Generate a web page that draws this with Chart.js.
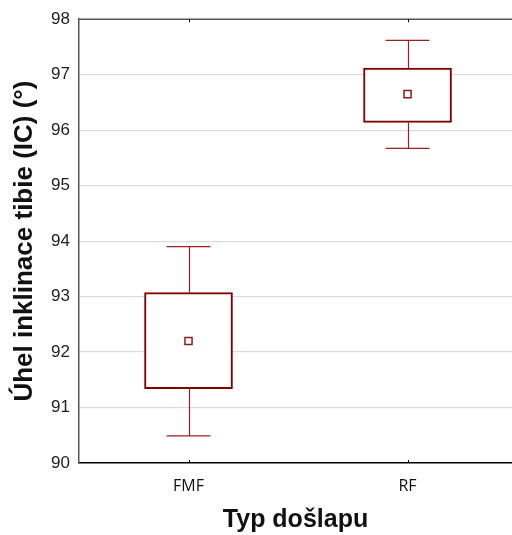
<!DOCTYPE html>
<html>
<head>
<meta charset="utf-8">
<script src="https://cdn.jsdelivr.net/npm/chart.js@4"></script>
<style>
  html, body { margin: 0; padding: 0; background: #fff; }
  #wrap { width: 512px; height: 535px; position: relative; }
</style>
</head>
<body>
<div id="wrap"><canvas id="boxChart"></canvas></div>
<script>
// ===============================
// DATA
// ===============================
const categories = ["FMF", "RF"];
const means = [92.2, 96.65];
const boxLow = [91.34, 96.14];
const boxHigh = [93.07, 97.12];
const whiskerLow = [90.49, 95.67];
const whiskerHigh = [93.9, 97.62];
const yTicks = [90, 91, 92, 93, 94, 95, 96, 97, 98];

const DARK_RED = "#800000";
const WHISKER_RED = "#9a1f1f";

document.addEventListener("DOMContentLoaded", () => {

  // ===============================
  // WHISKERS + FRAME TICKS
  // ===============================
  const whiskerPlugin = {
    id: "whiskers",
    afterDatasetsDraw(chart) {
      const { ctx, scales: { x, y }, chartArea } = chart;
      ctx.save();
      ctx.strokeStyle = WHISKER_RED;
      ctx.lineWidth = 1.2;
      categories.forEach((c, i) => {
        const cx = Math.round(x.getPixelForValue(i)) + 0.5;
        const capL = x.getPixelForValue(i - 0.1);
        const capR = x.getPixelForValue(i + 0.1);
        ctx.beginPath();
        ctx.moveTo(cx, y.getPixelForValue(boxHigh[i]));
        ctx.lineTo(cx, y.getPixelForValue(whiskerHigh[i]));
        ctx.moveTo(capL, y.getPixelForValue(whiskerHigh[i]));
        ctx.lineTo(capR, y.getPixelForValue(whiskerHigh[i]));
        ctx.moveTo(cx, y.getPixelForValue(boxLow[i]));
        ctx.lineTo(cx, y.getPixelForValue(whiskerLow[i]));
        ctx.moveTo(capL, y.getPixelForValue(whiskerLow[i]));
        ctx.lineTo(capR, y.getPixelForValue(whiskerLow[i]));
        ctx.stroke();
      });

      // top frame line
      ctx.strokeStyle = "#555";
      ctx.lineWidth = 1.5;
      ctx.beginPath();
      ctx.moveTo(chartArea.left, chartArea.top);
      ctx.lineTo(chartArea.right, chartArea.top);
      ctx.stroke();

      // small category ticks on top and bottom
      ctx.strokeStyle = "#000";
      ctx.lineWidth = 1;
      categories.forEach((c, i) => {
        const cx = Math.round(x.getPixelForValue(i)) + 0.5;
        ctx.beginPath();
        ctx.moveTo(cx, chartArea.top);
        ctx.lineTo(cx, chartArea.top + 3);
        ctx.moveTo(cx, chartArea.bottom);
        ctx.lineTo(cx, chartArea.bottom - 3);
        ctx.stroke();
      });
      ctx.restore();
    }
  };

  const canvas = document.getElementById("boxChart");
  new Chart(canvas, {
    type: "bar",
    data: {
      datasets: [
        {
          type: "scatter",
          label: "mean",
          data: categories.map((c, i) => ({ x: i, y: means[i] })),
          pointStyle: "rect",
          pointRadius: 5,
          pointBorderWidth: 1.5,
          pointBackgroundColor: "#fff",
          pointBorderColor: "#8b1a1a",
          order: 0
        },
        {
          label: "box",
          data: categories.map((c, i) => ({ x: i, y: [boxLow[i], boxHigh[i]] })),
          backgroundColor: "#fff",
          borderColor: DARK_RED,
          borderWidth: 2,
          borderSkipped: false,
          barThickness: 88,
          order: 1
        }
      ]
    },
    options: {
      responsive: true,
      maintainAspectRatio: false,
      animation: false,
      layout: { autoPadding: false, padding: { top: 19, right: 0, left: 0, bottom: 0 } },
      plugins: { legend: { display: false }, tooltip: { enabled: false } },
      scales: {
        x: {
          type: "linear",
          offset: false,
          min: -0.5,
          max: 1.477,
          grid: { display: false },
          border: { display: true, color: "#000", width: 1.5 },
          afterBuildTicks: (scale) => { scale.ticks = categories.map((c, i) => ({ value: i })); },
          afterFit: (scale) => {
            scale.height = 72;
            scale.paddingLeft = 0;
            scale.paddingRight = 0;
          },
          ticks: {
            callback: (v) => categories[v],
            color: "#111",
            padding: 6,
            maxRotation: 0,
            font: { family: "'Open Sans'", size: 16 }
          },
          title: {
            display: true,
            text: "Typ došlapu",
            color: "#111",
            padding: { top: 0, bottom: 0 },
            font: { family: "'Liberation Sans', Arial", size: 25, weight: "bold" }
          }
        },
        y: {
          min: 90,
          max: 98,
          afterBuildTicks: (scale) => { scale.ticks = yTicks.map(v => ({ value: v })); },
          afterFit: (scale) => { scale.width = 79; },
          grid: {
            color: (ctx) => (ctx.tick && (ctx.tick.value === 90 || ctx.tick.value === 98)) ? "rgba(0,0,0,0)" : "#dcdcdc",
            lineWidth: 1.2,
            drawTicks: false
          },
          border: { display: true, color: "#555", width: 1.5 },
          ticks: {
            color: "#222",
            padding: 9,
            font: { family: "'Liberation Sans', Arial", size: 17 }
          },
          title: {
            display: true,
            text: "Úhel inklinace tibie (IC) (°)",
            color: "#111",
            padding: { top: 9, bottom: 0 },
            font: { family: "'Liberation Sans', Arial", size: 26, weight: "bold" }
          }
        }
      }
    },
    plugins: [whiskerPlugin]
  });
});
</script>
</body>
</html>
